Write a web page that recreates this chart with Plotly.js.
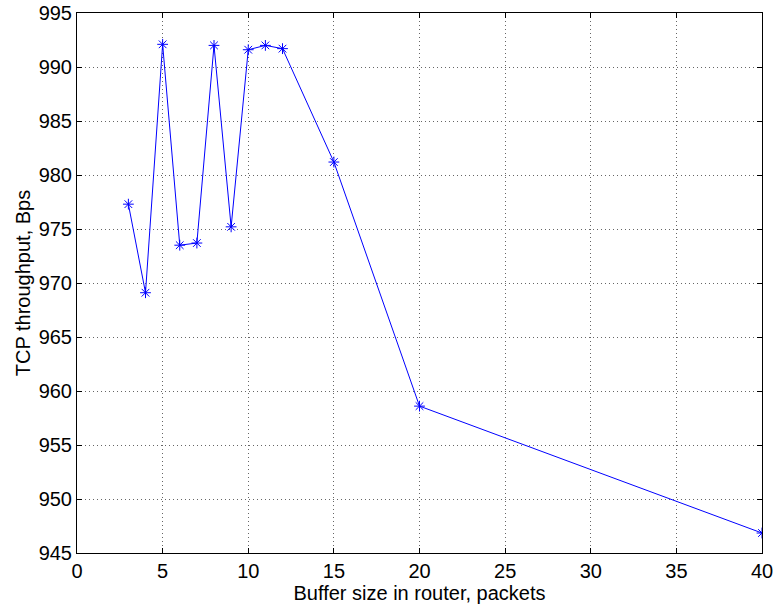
<!DOCTYPE html>
<html>
<head>
<meta charset="utf-8">
<script src="https://cdn.plot.ly/plotly-3.0.1.min.js"></script>
<style>html,body{margin:0;padding:0;background:#fff;}#chart{width:776px;height:609px;}</style>
</head>
<body>
<div id="chart"></div>
<script>
const bufferSize = [3, 4, 5, 6, 7, 8, 9, 10, 11, 12, 15, 20, 40];
const throughput = [977.3, 969.1, 992.1, 973.5, 973.7, 992.0, 975.2, 991.6, 992.0, 991.7, 981.2, 958.6, 946.85];
const xTicks = [0, 5, 10, 15, 20, 25, 30, 35, 40];
const yTicks = [945, 950, 955, 960, 965, 970, 975, 980, 985, 990, 995];

const FONT = 'Liberation Sans, Arial, sans-serif';

const trace = {
  x: bufferSize,
  y: throughput,
  type: 'scatter',
  mode: 'lines+markers',
  line: {color: '#0000ff', width: 1},
  marker: {symbol: 'asterisk-open', size: 9, color: '#0000ff', line: {color: '#0000ff', width: 1}},
  hoverinfo: 'skip'
};

const axisCommon = {
  showline: true,
  linecolor: '#000',
  linewidth: 1,
  mirror: 'ticks',
  ticks: 'inside',
  ticklen: 5,
  tickcolor: '#000',
  showgrid: true,
  gridcolor: '#666',
  gridwidth: 1,
  griddash: '1px,3px',
  zeroline: false,
  tickfont: {family: FONT, size: 20, color: '#000'}
};

const layout = {
  width: 776,
  height: 609,
  margin: {l: 77, r: 14, t: 13, b: 56},
  paper_bgcolor: '#fff',
  plot_bgcolor: '#fff',
  showlegend: false,
  xaxis: Object.assign({}, axisCommon, {
    range: [0, 40],
    tickmode: 'array',
    tickvals: xTicks,
    ticktext: xTicks.map(String),
    title: {text: 'Buffer size in router, packets', font: {family: FONT, size: 20, color: '#000'}, standoff: 0}
  }),
  yaxis: Object.assign({}, axisCommon, {
    range: [945, 995],
    tickmode: 'array',
    tickvals: yTicks,
    ticktext: yTicks.map(String),
    title: {text: 'TCP throughput, Bps', font: {family: FONT, size: 20, color: '#000'}, standoff: 2}
  })
};

Plotly.newPlot('chart', [trace], layout, {staticPlot: true, displayModeBar: false});
</script>
</body>
</html>
